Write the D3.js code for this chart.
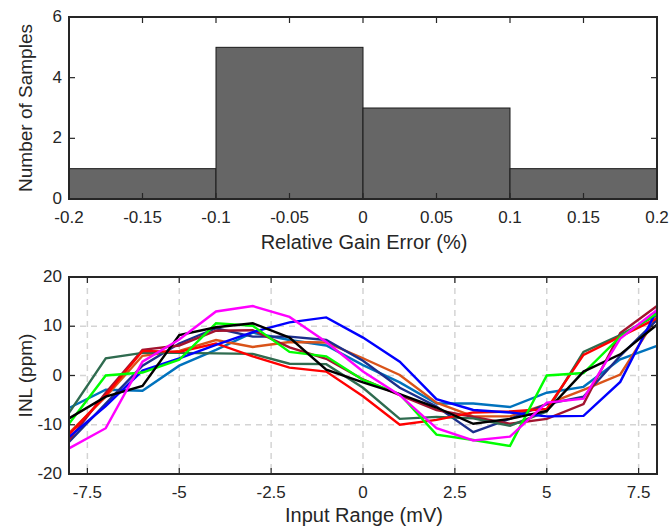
<!DOCTYPE html>
<html><head><meta charset="utf-8">
<script src="https://cdn.jsdelivr.net/npm/d3@7"></script>
<style>
html,body{margin:0;padding:0;background:#fff;}
text{font-family:"Liberation Sans",Arial,Helvetica,sans-serif;fill:#262626;}
</style></head>
<body>
<svg id="c" width="671" height="527"></svg>
<script>
// ---- Histogram data ----
const binEdges = [-0.2, -0.1, 0, 0.1, 0.2];
const binCounts = [1, 5, 3, 1];
const histXTicks = [-0.2, -0.15, -0.1, -0.05, 0, 0.05, 0.1, 0.15, 0.2];
const histYTicks = [0, 2, 4, 6];

// ---- INL data ----
const inputMv = [-8,-7,-6,-5,-4,-3,-2,-1,0,1,2,3,4,5,6,7,8];
const inlLightBlue = [-6.6,-2.9,-3.1,2.0,5.2,8.7,7.2,6.1,2.1,-1.4,-5.7,-5.7,-6.4,-3.5,-2.3,3.3,6.0];
const inlOrange    = [-11.7,-4.3,4.0,5.0,7.2,5.8,6.8,6.7,3.5,0.1,-5.5,-8.3,-8.3,-5.8,-2.9,0.2,11.9];
const inlNavy      = [-13.5,-5.7,2.0,6.5,9.6,7.9,7.9,7.2,3.0,-2.5,-6.3,-11.5,-8.8,-5.8,-4.3,4.0,11.3];
const inlMaroon    = [-13.1,-3.5,5.2,6.1,9.1,9.2,5.7,3.4,-0.8,-4.0,-7.0,-8.4,-9.8,-8.8,-5.8,8.6,14.1];
const inlDarkGreen = [-7.6,3.5,4.6,4.6,4.5,4.4,2.4,2.3,-2.5,-8.8,-8.4,-8.7,-10.2,-7.3,4.8,8.2,12.3];
const inlRed       = [-12.0,-4.0,5.0,4.8,6.5,3.9,1.6,0.8,-4.2,-10.0,-9.0,-7.5,-7.3,-6.8,4.2,7.9,11.6];
const inlBlue      = [-12.5,-6.2,1.0,3.5,6.2,8.8,10.8,11.8,7.7,2.8,-4.8,-7.0,-7.5,-8.3,-8.2,-1.3,13.3];
const inlGreen     = [-9.8,0.0,0.6,3.2,10.6,10.1,4.8,3.9,-0.9,-3.8,-12.0,-13.1,-14.3,0.0,0.5,7.9,12.6];
const inlBlack     = [-8.7,-4.3,-2.1,8.2,9.8,10.6,7.7,1.2,-1.4,-3.8,-6.5,-9.8,-8.8,-7.2,0.8,4.3,10.3];
const inlMagenta   = [-14.8,-10.7,2.8,7.3,13.0,14.1,11.9,6.8,0.8,-4.0,-10.7,-13.2,-12.4,-5.5,-4.7,7.5,13.3];
const inlXTicks = [-7.5,-5,-2.5,0,2.5,5,7.5];
const inlYTicks = [-20,-10,0,10,20];

const series = [
  {v: inlLightBlue, c: "#0072bd"},
  {v: inlOrange,    c: "#d95319"},
  {v: inlNavy,      c: "#1c2f8c"},
  {v: inlMaroon,    c: "#a2142f"},
  {v: inlDarkGreen, c: "#2f6b4f"},
  {v: inlRed,       c: "#ff0000"},
  {v: inlBlue,      c: "#0000ff"},
  {v: inlGreen,     c: "#00ff00"},
  {v: inlBlack,     c: "#000000"},
  {v: inlMagenta,   c: "#ff00ff"}
];

const svg = d3.select("#c");
const axCol = "#262626";
const tickLen = 6;
const L = 69, R = 657;
const tickFont = 17, titleFont = 20, yTitleFont = 19;

function fmt(d){ return String(+d.toFixed(4)); }

function grid(g, x, y, xt, yt){
  const [y0, y1] = y.range();
  g.append("g").selectAll("line").data(xt).join("line")
    .attr("x1", d=>x(d)).attr("x2", d=>x(d)).attr("y1", y1).attr("y2", y0)
    .attr("stroke", "#d4d4d4").attr("stroke-width", 1.5).attr("stroke-dasharray", "6,5");
  g.append("g").selectAll("line").data(yt.filter(d=>d!==y.domain()[0] && d!==y.domain()[1])).join("line")
    .attr("x1", L).attr("x2", R).attr("y1", d=>y(d)).attr("y2", d=>y(d))
    .attr("stroke", "#d4d4d4").attr("stroke-width", 1.5).attr("stroke-dasharray", "6,5");
}
function box(g, x, y, xt, yt){
  const [y0, y1] = y.range();
  const tk = g.append("g").attr("stroke", axCol).attr("stroke-width", 1.2);
  xt.forEach(d=>{
    tk.append("line").attr("x1", x(d)).attr("x2", x(d)).attr("y1", y0).attr("y2", y0 - tickLen);
    tk.append("line").attr("x1", x(d)).attr("x2", x(d)).attr("y1", y1).attr("y2", y1 + tickLen);
  });
  yt.forEach(d=>{
    tk.append("line").attr("x1", L).attr("x2", L + tickLen).attr("y1", y(d)).attr("y2", y(d));
    tk.append("line").attr("x1", R).attr("x2", R - tickLen).attr("y1", y(d)).attr("y2", y(d));
  });
  g.append("rect").attr("x", L).attr("y", y1).attr("width", R - L).attr("height", y0 - y1)
    .attr("fill", "none").attr("stroke", axCol).attr("stroke-width", 2);
  g.append("g").selectAll("text").data(xt).join("text")
    .attr("x", d=>x(d)).attr("y", y0 + 24).attr("text-anchor", "middle")
    .attr("font-size", tickFont).text(d=>fmt(d));
  g.append("g").selectAll("text").data(yt).join("text")
    .attr("x", L - 7).attr("y", d=>y(d) + 5).attr("text-anchor", "end")
    .attr("font-size", tickFont).text(d=>fmt(d));
}

// ---- Top: histogram ----
const hx = d3.scaleLinear().domain([-0.2, 0.2]).range([L, R]);
const hy = d3.scaleLinear().domain([0, 6]).range([199, 17]);
const gTop = svg.append("g");
gTop.append("g").selectAll("rect").data(binCounts).join("rect")
  .attr("x", (d,i)=>hx(binEdges[i])).attr("width", (d,i)=>hx(binEdges[i+1]) - hx(binEdges[i]))
  .attr("y", d=>hy(d)).attr("height", d=>hy(0) - hy(d))
  .attr("fill", "#666666").attr("stroke", "#1a1a1a").attr("stroke-width", 1);
box(gTop, hx, hy, histXTicks, histYTicks);
gTop.append("text").attr("x", (L+R)/2 + 1).attr("y", 249).attr("text-anchor", "middle")
  .attr("font-size", titleFont).text("Relative Gain Error (%)");
gTop.append("text").attr("transform", `translate(32,${(17+199)/2}) rotate(-90)`)
  .attr("text-anchor", "middle").attr("font-size", yTitleFont).text("Number of Samples");

// ---- Bottom: INL ----
const lx = d3.scaleLinear().domain([-8, 8]).range([L, R]);
const ly = d3.scaleLinear().domain([-20, 20]).range([474, 277]);
const gBot = svg.append("g");
grid(gBot, lx, ly, inlXTicks, inlYTicks);
const line = d3.line().x((d,i)=>lx(inputMv[i])).y(d=>ly(d));
gBot.append("g").selectAll("path").data(series).join("path")
  .attr("d", d=>line(d.v)).attr("fill", "none").attr("stroke", d=>d.c)
  .attr("stroke-width", 2.4).attr("stroke-linejoin", "miter");
box(gBot, lx, ly, inlXTicks, inlYTicks);
gBot.append("text").attr("x", (L+R)/2 + 1).attr("y", 522).attr("text-anchor", "middle")
  .attr("font-size", titleFont).text("Input Range (mV)");
gBot.append("text").attr("transform", `translate(32,${(277+474)/2}) rotate(-90)`)
  .attr("text-anchor", "middle").attr("font-size", yTitleFont).text("INL (ppm)");
</script>
</body></html>
